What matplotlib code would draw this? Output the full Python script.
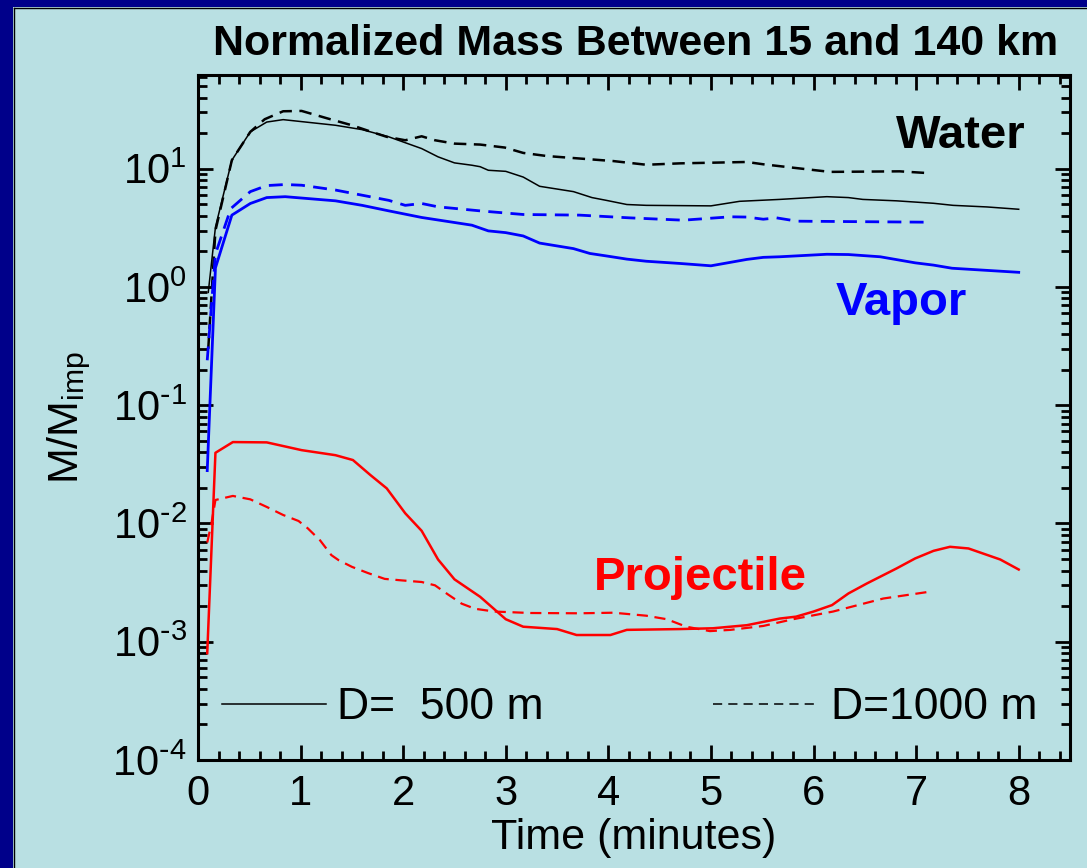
import matplotlib
matplotlib.use("Agg")
import matplotlib.pyplot as plt
import numpy as np
from matplotlib.patches import Rectangle
from matplotlib.lines import Line2D
from matplotlib.ticker import LogLocator, MultipleLocator, FuncFormatter, NullFormatter

plt.rcParams['font.family'] = ['Liberation Sans', 'DejaVu Sans']
plt.rcParams['mathtext.default'] = 'regular'
plt.rcParams['axes.unicode_minus'] = False

# ---- data ----
water_500_t = [0.10, 0.17, 0.33, 0.51, 0.67, 0.83, 1.34, 1.60, 1.86, 2.18, 2.34, 2.50, 2.67, 2.75, 2.83,
               3.00, 3.17, 3.33, 3.66, 3.84, 3.98, 4.18, 4.37, 5.00, 5.28, 5.67, 6.13, 6.34, 6.48,
               6.81, 7.17, 7.36, 7.69, 8.00]
water_500_v = [0.9, 3.2, 11.8, 20.5, 24.8, 26.0, 23.3, 21.4, 18.6, 14.8, 12.6, 11.2, 10.7, 10.4, 9.7,
               9.5, 8.5, 7.1, 6.4, 5.7, 5.4, 4.98, 4.9, 4.85, 5.3, 5.5, 5.8, 5.7, 5.5,
               5.35, 5.1, 4.9, 4.75, 4.54]

water_1000_t = [0.10, 0.17, 0.33, 0.51, 0.65, 0.83, 1.01, 1.27, 1.50, 1.69, 1.84, 2.02, 2.18, 2.31,
                2.50, 2.75, 2.99, 3.17, 3.40, 4.05, 4.37, 4.70, 5.35, 5.51, 5.80, 6.16, 6.84, 7.10]
water_1000_v = [0.3, 3.0, 11.8, 20.5, 26.2, 30.6, 30.8, 26.5, 23.3, 20.5, 18.6, 17.4, 18.8, 17.4,
                16.3, 16.0, 15.1, 13.6, 12.8, 11.6, 10.8, 11.1, 11.4, 10.9, 10.2, 9.4, 9.5, 9.2]

vapor_500_t = [0.09, 0.17, 0.33, 0.51, 0.67, 0.85, 1.34, 1.60, 1.86, 2.18, 2.67, 2.83, 3.00, 3.17,
               3.33, 3.66, 3.82, 3.98, 4.18, 4.37, 4.70, 5.00, 5.35, 5.51, 5.67, 6.13, 6.34, 6.65,
               6.99, 7.17, 7.35, 8.00]
vapor_500_v = [0.028, 1.45, 4.05, 5.08, 5.7, 5.8, 5.35, 4.9, 4.4, 3.87, 3.33, 2.98, 2.88, 2.7,
               2.35, 2.11, 1.92, 1.83, 1.72, 1.65, 1.58, 1.51, 1.71, 1.78, 1.8, 1.89, 1.88, 1.8,
               1.6, 1.53, 1.44, 1.33]

vapor_1000_t = [0.09, 0.17, 0.32, 0.51, 0.67, 0.85, 1.01, 1.34, 1.60, 1.86, 2.02, 2.18, 2.34, 2.75,
                3.17, 3.72, 4.21, 4.73, 5.19, 5.35, 5.51, 5.64, 5.84, 7.10]
vapor_1000_v = [0.24, 1.9, 4.6, 6.4, 7.2, 7.35, 7.25, 6.6, 5.97, 5.4, 4.9, 5.08, 4.76, 4.4,
                4.1, 4.05, 3.84, 3.67, 3.92, 3.9, 3.74, 3.84, 3.6, 3.53]

proj_500_t = [0.09, 0.17, 0.34, 0.67, 1.01, 1.34, 1.51, 1.68, 1.84, 2.02, 2.18, 2.34, 2.50, 2.75,
              3.00, 3.17, 3.50, 3.69, 4.02, 4.18, 4.70, 5.02, 5.35, 5.67, 5.83, 6.00, 6.18, 6.34,
              6.52, 6.81, 6.99, 7.17, 7.33, 7.51, 7.82, 8.00]
proj_500_v = [8.0e-4, 0.0396, 0.0488, 0.0485, 0.0417, 0.0378, 0.0344, 0.0257, 0.0198, 0.0122,
              0.00867, 0.00496, 0.00337, 0.0024, 0.00155, 0.00134, 0.00128, 0.00114, 0.00114,
              0.00126, 0.00128, 0.0013, 0.00138, 0.00157, 0.00163, 0.0018, 0.00204, 0.00256,
              0.00311, 0.00417, 0.00506, 0.00587, 0.00635, 0.00615, 0.00496, 0.00408]

proj_1000_t = [0.09, 0.13, 0.17, 0.34, 0.51, 0.67, 0.83, 0.98, 1.07, 1.19, 1.30, 1.37, 1.50, 1.66,
               1.82, 1.99, 2.18, 2.31, 2.44, 2.57, 2.70, 2.89, 3.24, 3.72, 4.05, 4.37, 4.57, 4.76,
               4.99, 5.19, 5.51, 5.80, 6.19, 6.68, 7.12]
proj_1000_v = [0.0069, 0.0099, 0.0158, 0.0171, 0.016, 0.0138, 0.0118, 0.0105, 0.0091, 0.0072,
               0.0054, 0.0049, 0.0043, 0.0038, 0.0034, 0.0033, 0.0032, 0.0030, 0.0025, 0.0021,
               0.0019, 0.0018, 0.00175, 0.00174, 0.00176, 0.00166, 0.00155, 0.00134, 0.00123,
               0.00126, 0.00136, 0.00155, 0.0018, 0.00232, 0.00264]

title = "Normalized Mass Between 15 and 140 km"
xlabel = "Time (minutes)"
ylabel = r"$\mathregular{M/M_{imp}}$"
legend_labels = ["D=  500 m", "D=1000 m"]

# ---- style ----
BG = "#b9e0e3"
NAVY = "#00008a"
W, H = 1087, 868
fig = plt.figure(figsize=(W / 100, H / 100), dpi=100, facecolor=BG)
fig.patch.set_linewidth(0)

# slide border (left & top)
fig.add_artist(Rectangle((0, 0), 13 / W, 1, transform=fig.transFigure, facecolor=NAVY, edgecolor='none'))
fig.add_artist(Rectangle((0, 1 - 7 / H), 1, 7 / H, transform=fig.transFigure, facecolor=NAVY, edgecolor='none'))
fig.add_artist(Line2D([13.5 / W, 13.5 / W], [0, 1 - 7.5 / H], transform=fig.transFigure, color='black', lw=1))
fig.add_artist(Line2D([13.5 / W, 1], [1 - 7.5 / H, 1 - 7.5 / H], transform=fig.transFigure, color='black', lw=1))

ax = fig.add_axes([198 / W, 1 - 760 / H, (1070 - 198) / W, (760 - 75) / H])
ax.set_facecolor(BG)

dash = (0, (5, 3))
ax.plot(water_500_t, water_500_v, color='black', lw=1.1)
ax.plot(water_1000_t, water_1000_v, color='black', lw=1.8, linestyle=dash)
ax.plot(vapor_500_t, vapor_500_v, color='#0000ff', lw=2.0)
ax.plot(vapor_1000_t, vapor_1000_v, color='#0000ff', lw=2.0, linestyle=dash)
ax.plot(proj_500_t, proj_500_v, color='#ff0000', lw=1.8)
ax.plot(proj_1000_t, proj_1000_v, color='#ff0000', lw=1.6, linestyle=dash)

ax.set_yscale('log')
ax.set_xlim(0, 8.5)
ax.set_ylim(1e-4, 62)


def pow10_label(v, pos):
    e = int(round(np.log10(v)))
    es = str(e).replace('-', r'\text{-}')
    return r"$\mathregular{10^{%s}}$" % es


ax.xaxis.set_major_locator(MultipleLocator(1))
ax.xaxis.set_minor_locator(MultipleLocator(0.2))
ax.yaxis.set_major_locator(LogLocator(base=10, numticks=20))
ax.yaxis.set_minor_locator(LogLocator(base=10, subs=range(2, 10), numticks=20))
ax.yaxis.set_major_formatter(FuncFormatter(pow10_label))
ax.yaxis.set_minor_formatter(NullFormatter())

for s in ax.spines.values():
    s.set_linewidth(2.2)
ax.tick_params(which='both', direction='in', top=True, right=True, width=2.0, colors='black')
ax.tick_params(which='major', length=11, labelsize=30)
ax.tick_params(axis='x', which='major', pad=10)
ax.tick_params(axis='y', which='major', pad=8)
ax.tick_params(which='minor', length=6.5)

ax.set_xlabel(xlabel, fontsize=31, labelpad=3)
ax.set_ylabel(ylabel, fontsize=31, labelpad=14)

fig.text(636 / W, 1 - 55 / H, title, fontsize=31, fontweight='bold', ha='center', va='baseline')

ax.text(7.44, 14.9, "Water", color='black', fontsize=34, fontweight='bold', ha='center', va='baseline')
ax.text(6.86, 0.578, "Vapor", color='#0000ff', fontsize=34, fontweight='bold', ha='center', va='baseline')
ax.text(4.90, 0.00274, "Projectile", color='#ff0000', fontsize=34, fontweight='bold', ha='center', va='baseline')

h1 = Line2D([], [], color='black', lw=1.1)
h2 = Line2D([], [], color='black', lw=1.1, linestyle=(0, (6, 4)))
leg1 = ax.legend([h1], [legend_labels[0]], loc='center left', bbox_to_anchor=(0.0275, 0.076),
                 frameon=False, fontsize=32, handlelength=2.35, handletextpad=0.23,
                 borderpad=0, borderaxespad=0)
ax.add_artist(leg1)
ax.legend([h2], [legend_labels[1]], loc='center right', bbox_to_anchor=(0.963, 0.076),
          frameon=False, fontsize=32, handlelength=2.3, handletextpad=0.37,
          borderpad=0, borderaxespad=0)

fig.savefig("out.png", dpi=100, facecolor=BG)
